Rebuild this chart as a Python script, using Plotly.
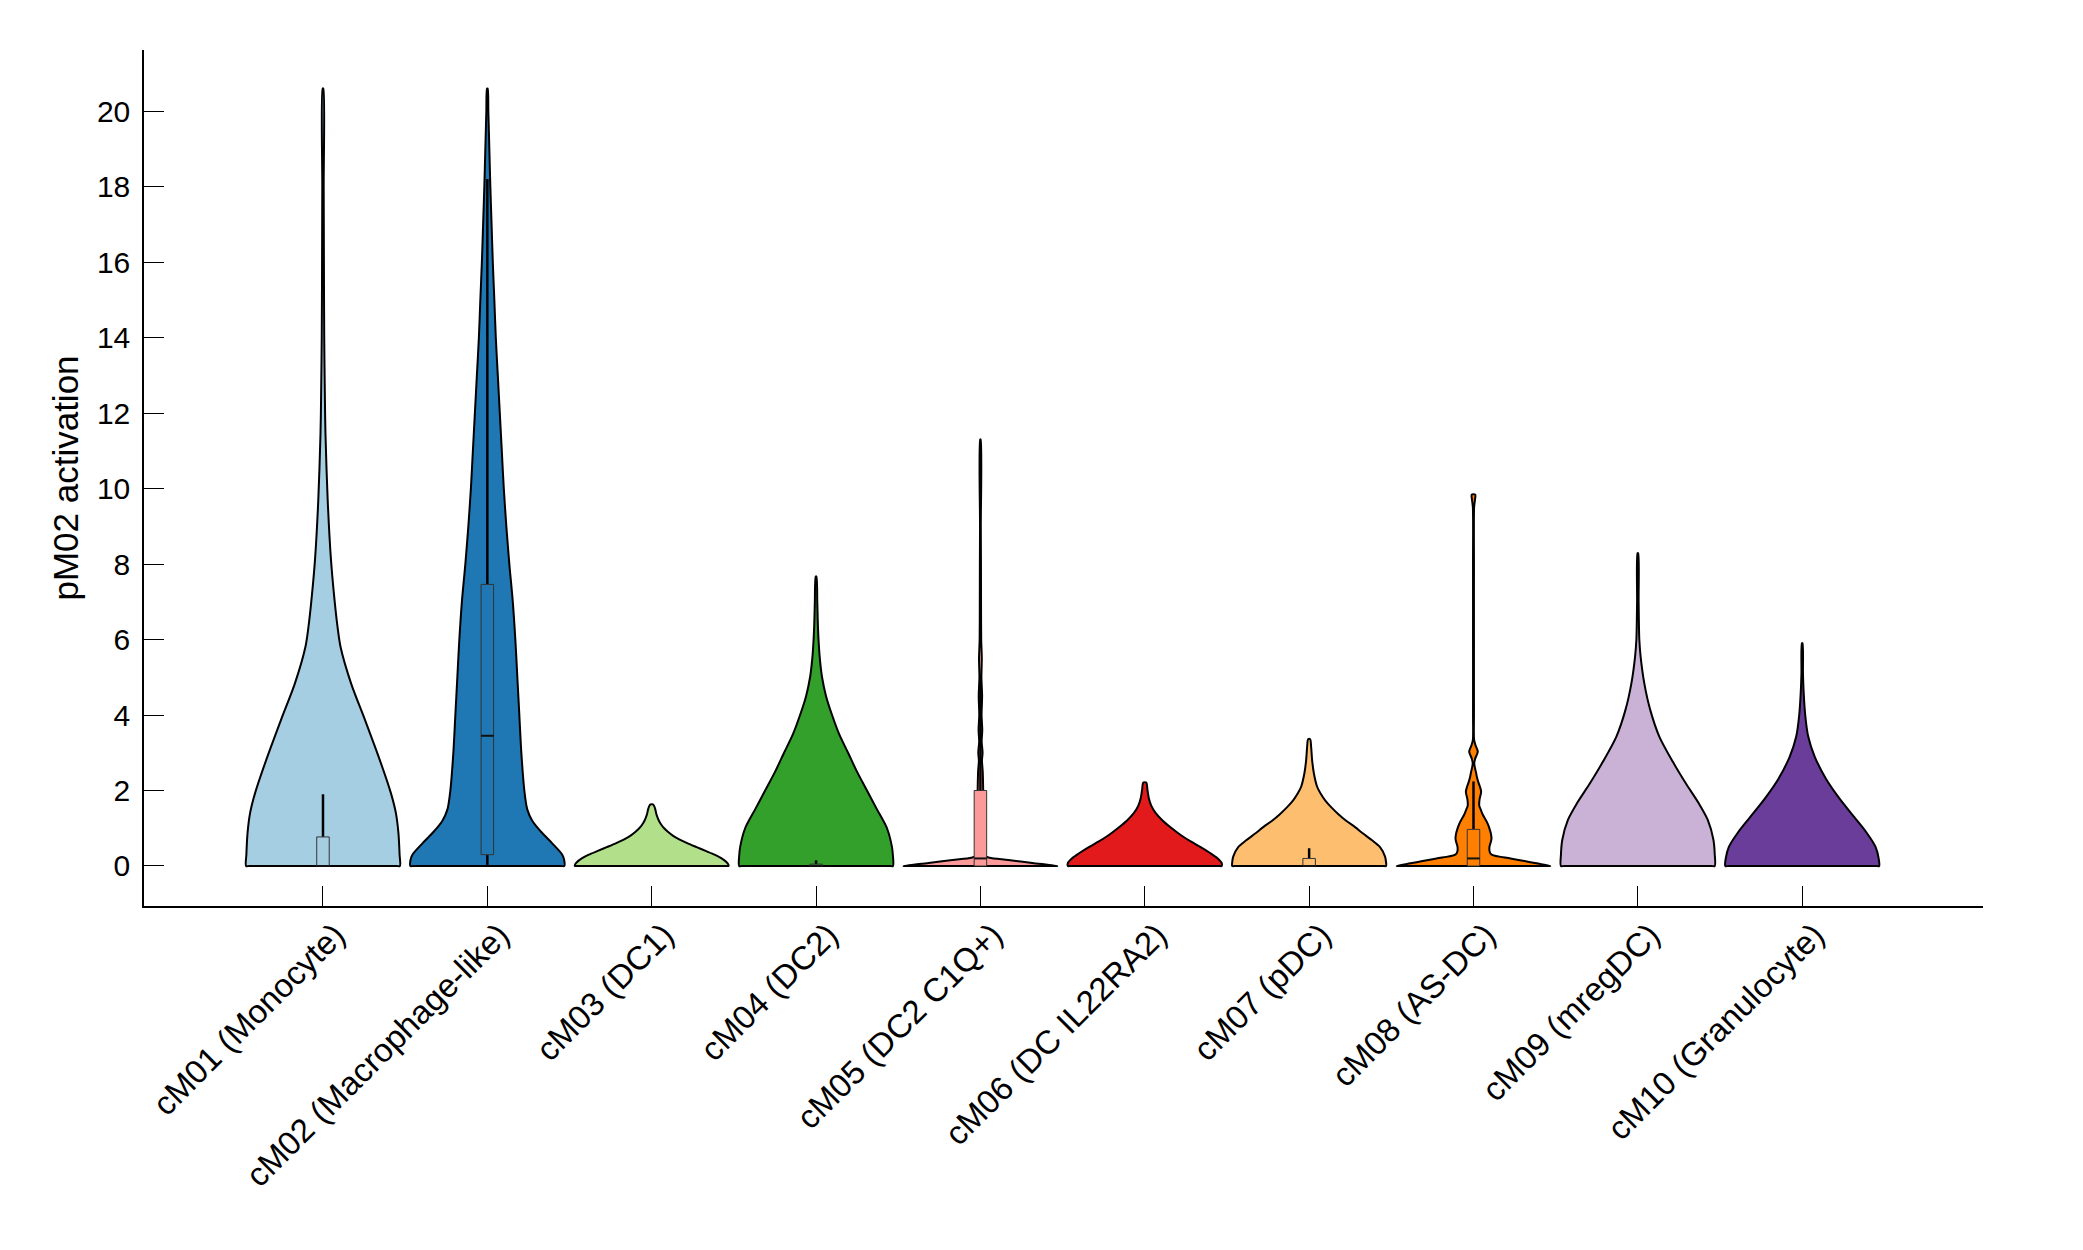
import plotly.graph_objects as go

# ---------------- data ----------------
categories = ["cM01 (Monocyte)", "cM02 (Macrophage-like)", "cM03 (DC1)", "cM04 (DC2)",
              "cM05 (DC2 C1Q+)", "cM06 (DC IL22RA2)", "cM07 (pDC)", "cM08 (AS-DC)",
              "cM09 (mregDC)", "cM10 (Granulocyte)"]
colors = ["#a6cee3", "#1f78b4", "#b2df8a", "#33a02c", "#fb9a99",
          "#e31a1c", "#fdbf6f", "#ff7f00", "#cab2d6", "#6a3d9a"]

# violin profiles: activation values and relative density (1 = widest violin)
cm01_y = [0, 0.3, 0.87, 1.4, 1.93, 2.8, 3.86, 4.84, 5.81, 6.4, 7.05, 8.11, 9.7, 11.47, 12.35, 14, 16, 18, 20.6]
cm01_d = [1.0, 0.996, 0.981, 0.948, 0.883, 0.740, 0.548, 0.365, 0.228, 0.185, 0.150, 0.104, 0.061, 0.032,
          0.025, 0.016, 0.012, 0.009, 0.004]
cm02_y = [0, 0.15, 0.3, 0.6, 0.9, 1.2, 1.5, 2, 3, 4, 5, 6, 7, 8, 9, 10, 11, 12, 13, 14, 15, 16, 17, 18,
          19, 20, 20.6]
cm02_d = [1.0, 1.0, 0.974, 0.844, 0.701, 0.584, 0.519, 0.481, 0.442, 0.416, 0.390, 0.364, 0.331, 0.286,
          0.247, 0.214, 0.188, 0.162, 0.136, 0.110, 0.091, 0.071, 0.055, 0.039, 0.026, 0.013, 0.004]
cm03_y = [0, 0.05, 0.1, 0.2, 0.3, 0.4, 0.5, 0.6, 0.7, 0.8, 0.9, 1.0, 1.1, 1.2, 1.3, 1.4, 1.5, 1.58, 1.63]
cm03_d = [1.0, 0.994, 0.974, 0.909, 0.818, 0.701, 0.584, 0.468, 0.364, 0.279, 0.214, 0.162, 0.123,
          0.094, 0.073, 0.058, 0.047, 0.034, 0.016]
cm04_y = [0, 0.25, 0.5, 1.0, 1.5, 2.0, 2.5, 3.0, 3.5, 4.0, 4.5, 5.0, 5.5, 6.0, 6.5, 7.0, 7.67]
cm04_d = [1.0, 1.0, 0.987, 0.922, 0.792, 0.662, 0.532, 0.416, 0.299, 0.208, 0.130, 0.078, 0.049,
          0.032, 0.022, 0.016, 0.004]
cm05_y = [0, 0.08, 0.16, 0.22, 0.26, 0.35, 0.6, 1.0, 1.5, 2.0, 2.5, 2.8, 3.0, 3.3, 3.6, 4.0, 4.5, 5.0,
          5.5, 6.0, 7.0, 8.0, 9.0, 11.3]
cm05_d = [1.0, 0.675, 0.364, 0.117, 0.065, 0.050, 0.044, 0.041, 0.039, 0.036, 0.030, 0.020, 0.028,
          0.016, 0.024, 0.015, 0.022, 0.013, 0.018, 0.010, 0.008, 0.007, 0.005, 0.003]
cm06_y = [0, 0.08, 0.2, 0.35, 0.5, 0.65, 0.8, 1.0, 1.2, 1.4, 1.6, 1.8, 2.0, 2.21]
cm06_d = [1.0, 1.0, 0.948, 0.844, 0.727, 0.597, 0.481, 0.351, 0.234, 0.143, 0.084, 0.052, 0.036, 0.019]
cm07_y = [0, 0.1, 0.25, 0.5, 0.68, 0.86, 1.03, 1.2, 1.38, 1.56, 1.74, 1.92, 2.1, 2.45, 2.8, 3.16, 3.36]
cm07_d = [1.0, 1.0, 0.987, 0.922, 0.818, 0.701, 0.597, 0.481, 0.377, 0.286, 0.208, 0.149, 0.104,
          0.062, 0.039, 0.026, 0.013]
cm08_y = [0, 0.07, 0.13, 0.2, 0.28, 0.33, 0.4, 0.51, 0.65, 0.73, 0.85, 0.95, 1.1, 1.21, 1.35, 1.48,
          1.6, 1.75, 1.97, 2.1, 2.19, 2.35, 2.46, 2.6, 2.72, 2.85, 3.03, 3.2, 3.34, 4.0, 6.0, 8.0, 9.5,
          9.7, 9.84]
cm08_d = [1.0, 0.818, 0.662, 0.481, 0.260, 0.221, 0.208, 0.208, 0.227, 0.234, 0.227, 0.214, 0.188,
          0.162, 0.123, 0.097, 0.075, 0.078, 0.099, 0.084, 0.068, 0.045, 0.035, 0.019, 0.010, 0.023,
          0.056, 0.026, 0.008, 0.006, 0.006, 0.006, 0.008, 0.019, 0.023]
cm09_y = [0, 0.3, 0.69, 1.22, 1.66, 2.19, 2.76, 3.43, 4.13, 4.84, 5.55, 6.0, 7.0, 8.29]
cm09_d = [1.0, 1.0, 0.983, 0.909, 0.792, 0.623, 0.455, 0.279, 0.162, 0.084, 0.036, 0.019, 0.010, 0.004]
cm10_y = [0, 0.2, 0.5, 0.9, 1.3, 1.8, 2.3, 2.9, 3.43, 4.0, 4.6, 5.1, 5.9]
cm10_d = [1.0, 0.994, 0.955, 0.831, 0.675, 0.481, 0.312, 0.162, 0.078, 0.039, 0.019, 0.010, 0.004]

profile_y = [cm01_y, cm02_y, cm03_y, cm04_y, cm05_y, cm06_y, cm07_y, cm08_y, cm09_y, cm10_y]
profile_d = [cm01_d, cm02_d, cm03_d, cm04_d, cm05_d, cm06_d, cm07_d, cm08_d, cm09_d, cm10_d]

# box-plot statistics
box_q1 = [0, 0.3, 0, 0, 0, 0, 0, 0, 0, 0]
box_median = [0, 3.45, 0, 0, 0.2, 0, 0, 0.2, 0, 0]
box_q3 = [0.77, 7.46, 0, 0.05, 2.0, 0, 0.2, 0.97, 0, 0]
box_low = [0, 0, 0, 0, 0, 0, 0, 0, 0, 0]
box_high = [1.9, 18.2, 0, 0.15, 5.0, 0, 0.47, 2.24, 0, 0]

y_ticks = [0, 2, 4, 6, 8, 10, 12, 14, 16, 18, 20]
y_title = "pM02 activation"

# ---------------- drawing ----------------
VIOLIN_HALF = 0.468
BOX_HALF = 0.038
CORNER = 0.02          # small rounding of the violin base corners
LABEL_SHIFT = 0.075    # tick-label offset to the right of the tick (as in the original)
X_RANGE = [-1.089, 10.1]
FONT = "Liberation Sans, Arial, Helvetica, sans-serif"

fig = go.Figure()
for i, (ys, ds) in enumerate(zip(profile_y, profile_d)):
    w0 = ds[0] * VIOLIN_HALF
    left_x = [i - d * VIOLIN_HALF for d in ds]
    right_x = [i + d * VIOLIN_HALF for d in ds]
    xs = [i, i - w0 + CORNER] + left_x + right_x[::-1] + [i + w0 - CORNER, i]
    yy = [ys[0], ys[0]] + list(ys) + list(ys)[::-1] + [ys[0], ys[0]]
    fig.add_trace(go.Scatter(
        x=xs, y=yy, mode="lines", fill="toself", fillcolor=colors[i],
        line=dict(color="black", width=2, shape="spline", smoothing=0.8),
        hoverinfo="skip", showlegend=False))
    if box_q3[i] > box_q1[i]:
        # whiskers
        fig.add_trace(go.Scatter(
            x=[i, i, None, i, i], y=[box_q3[i], box_high[i], None, box_low[i], box_q1[i]],
            mode="lines", line=dict(color="black", width=2.5), hoverinfo="skip", showlegend=False))
        # box
        fig.add_trace(go.Scatter(
            x=[i - BOX_HALF, i + BOX_HALF, i + BOX_HALF, i - BOX_HALF, i - BOX_HALF],
            y=[box_q1[i], box_q1[i], box_q3[i], box_q3[i], box_q1[i]],
            mode="lines", fill="toself", fillcolor=colors[i],
            line=dict(color="#333333", width=1), hoverinfo="skip", showlegend=False))
        # median
        fig.add_trace(go.Scatter(
            x=[i - BOX_HALF, i + BOX_HALF], y=[box_median[i], box_median[i]],
            mode="lines", line=dict(color="#111111", width=2), hoverinfo="skip", showlegend=False))

# empty trace so the label axis is registered
fig.add_trace(go.Scatter(x=[], y=[], xaxis="x2", yaxis="y", showlegend=False, hoverinfo="skip"))

fig.update_layout(
    width=2083, height=1250,
    margin=dict(l=144, r=100, t=50, b=344),
    paper_bgcolor="white", plot_bgcolor="white",
    font=dict(family=FONT, size=29, color="black"),
    showlegend=False,
    xaxis=dict(
        range=X_RANGE, tickmode="array", tickvals=list(range(len(categories))),
        showticklabels=False, ticks="inside", ticklen=20, tickwidth=1.2,
        tickcolor="black", showline=True, linecolor="black", linewidth=1.5,
        showgrid=False, zeroline=False,
    ),
    xaxis2=dict(
        overlaying="x", anchor="y", side="bottom",
        range=[X_RANGE[0] - LABEL_SHIFT, X_RANGE[1] - LABEL_SHIFT],
        tickmode="array", tickvals=list(range(len(categories))), ticktext=categories,
        tickangle=-45, ticks="", showline=False, showgrid=False, zeroline=False,
        tickfont=dict(family=FONT, size=33, color="black"), ticklabelstandoff=2,
    ),
    yaxis=dict(
        range=[-1.06, 21.62], tickmode="array", tickvals=y_ticks,
        ticks="inside", ticklen=20, tickwidth=1.2, tickcolor="black",
        showline=True, linecolor="black", linewidth=1.5, showgrid=False, zeroline=False,
        title=dict(text=y_title, standoff=8), ticklabelstandoff=6,
        tickfont=dict(family=FONT, size=30, color="black"),
    ),
)

fig.write_html("out.html")
